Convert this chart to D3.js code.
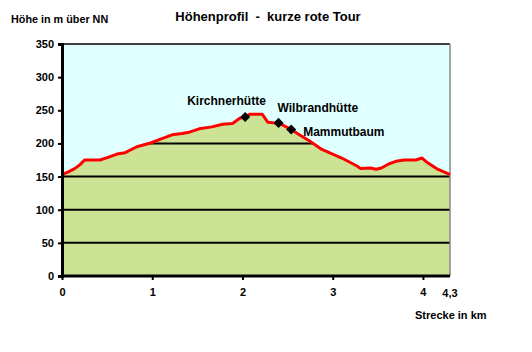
<!DOCTYPE html>
<html>
<head>
<meta charset="utf-8">
<script src="https://cdn.jsdelivr.net/npm/d3@7"></script>
<style>
  body { margin: 0; background: #fff; }
  text { font-family: Arial, "Liberation Sans", sans-serif; font-weight: bold; fill: #000; }
</style>
</head>
<body>
<div id="chart"></div>
<script>
// distance in km
const strecke = [0, 0.07, 0.14, 0.2, 0.25, 0.42, 0.51, 0.61, 0.7, 0.83, 0.99, 1.1, 1.22, 1.33, 1.41,
  1.52, 1.66, 1.78, 1.89, 1.97, 2.03, 2.08, 2.22, 2.28, 2.35, 2.4, 2.54, 2.63, 2.74, 2.88, 3.1,
  3.27, 3.31, 3.42, 3.48, 3.54, 3.62, 3.7, 3.79, 3.92, 3.99, 4.04, 4.15, 4.27, 4.3];
// elevation in m
const hoehe = [153, 157, 162, 168, 175, 175, 179, 184, 186, 195, 201, 207, 213, 215, 217,
  222, 225, 229, 230, 238, 240, 244, 244, 232, 231, 231, 221, 213, 204, 191, 178,
  166, 162, 163, 161, 163, 169, 173, 175, 175, 178, 172, 162, 155, 153];

const orte = ["Kirchnerhütte", "Wilbrandhütte", "Mammutbaum"];
const ortKm = [2.03, 2.4, 2.54];
const ortHoehe = [240, 231, 221];

const yTicks = [0, 50, 100, 150, 200, 250, 300, 350];
const xTicks = [0, 1, 2, 3, 4];
const xTickLabels = ["0", "1", "2", "3", "4"];

const width = 532, height = 352;
const margin = {top: 44, right: 82, bottom: 76, left: 62};

const svg = d3.select("#chart").append("svg")
  .attr("width", width).attr("height", height);

const x = d3.scaleLinear().domain([0, 4.3]).range([margin.left, width - margin.right]);
const y = d3.scaleLinear().domain([0, 350]).range([height - margin.bottom, margin.top]);

const data = strecke.map((d, i) => ({km: d, h: hoehe[i]}));

// plot background
svg.append("rect")
  .attr("x", x(0)).attr("y", y(350))
  .attr("width", x(4.3) - x(0)).attr("height", y(0) - y(350))
  .attr("fill", "#e0ffff");

const area = d3.area().x(d => x(d.km)).y0(y(0)).y1(d => y(d.h));

svg.append("clipPath").attr("id", "areaClip")
  .append("path").attr("d", area(data));

svg.append("path").attr("d", area(data)).attr("fill", "#cce396");

// gridlines, only visible under the profile
svg.append("g").attr("clip-path", "url(#areaClip)")
  .selectAll("line").data(yTicks.slice(1, -1)).enter().append("line")
  .attr("x1", x(0)).attr("x2", x(4.3))
  .attr("y1", d => y(d)).attr("y2", d => y(d))
  .attr("stroke", "#000").attr("stroke-width", 2);

// frame top and right
svg.append("line").attr("x1", x(0)).attr("x2", x(4.3)).attr("y1", y(350)).attr("y2", y(350))
  .attr("stroke", "#000").attr("stroke-width", 1.5);
svg.append("line").attr("x1", x(4.3)).attr("x2", x(4.3)).attr("y1", y(350)).attr("y2", y(0))
  .attr("stroke", "#888").attr("stroke-width", 1.5);

// profile line
svg.append("path").datum(data)
  .attr("d", d3.line().x(d => x(d.km)).y(d => y(d.h)))
  .attr("fill", "none").attr("stroke", "#ff0000").attr("stroke-width", 3)
  .attr("stroke-linejoin", "round");

// y axis
const yAxis = svg.append("g").attr("transform", `translate(${x(0)},0)`)
  .call(d3.axisLeft(y).tickValues(yTicks).tickSize(4).tickPadding(4));
yAxis.select(".domain").attr("stroke-width", 3);
yAxis.selectAll(".tick line").attr("stroke-width", 2);
yAxis.selectAll("text").style("font-size", "11px").style("font-family", "Arial, 'Liberation Sans', sans-serif").style("font-weight", "bold");

// x axis
const xAxis = svg.append("g").attr("transform", `translate(0,${y(0)})`)
  .call(d3.axisBottom(x).tickValues(xTicks).tickFormat((d, i) => xTickLabels[i]).tickSize(4).tickPadding(8));
xAxis.select(".domain").attr("stroke-width", 3).attr("d", `M${x(0)},0H${x(4.3)}`);
xAxis.selectAll(".tick line").attr("stroke-width", 2);
xAxis.selectAll("text").style("font-size", "11px").style("font-family", "Arial, 'Liberation Sans', sans-serif").style("font-weight", "bold");

svg.append("text").attr("x", x(4.3)).attr("y", y(0) + 21).attr("text-anchor", "middle")
  .style("font-size", "11px").text("4,3");

// markers
svg.append("g").selectAll("path").data(orte).enter().append("path")
  .attr("d", d3.symbol(d3.symbolDiamond2, 64))
  .attr("transform", (d, i) => `translate(${x(ortKm[i])},${y(ortHoehe[i])})`)
  .attr("fill", "#000");

const labelPos = [[-58, -12], [-1, -11], [12, 6]];
svg.append("g").selectAll("text").data(orte).enter().append("text")
  .attr("x", (d, i) => x(ortKm[i]) + labelPos[i][0])
  .attr("y", (d, i) => y(ortHoehe[i]) + labelPos[i][1])
  .style("font-size", "12px")
  .text(d => d);

// titles
svg.append("text").attr("x", 268).attr("y", 21).attr("text-anchor", "middle")
  .style("font-size", "13px").style("white-space", "pre")
  .text("Höhenprofil  -  kurze rote Tour");
svg.append("text").attr("x", 11).attr("y", 23).style("font-size", "10.8px")
  .text("Höhe in m über NN");
svg.append("text").attr("x", 415).attr("y", 319).style("font-size", "11px")
  .text("Strecke in km");
</script>
</body>
</html>
